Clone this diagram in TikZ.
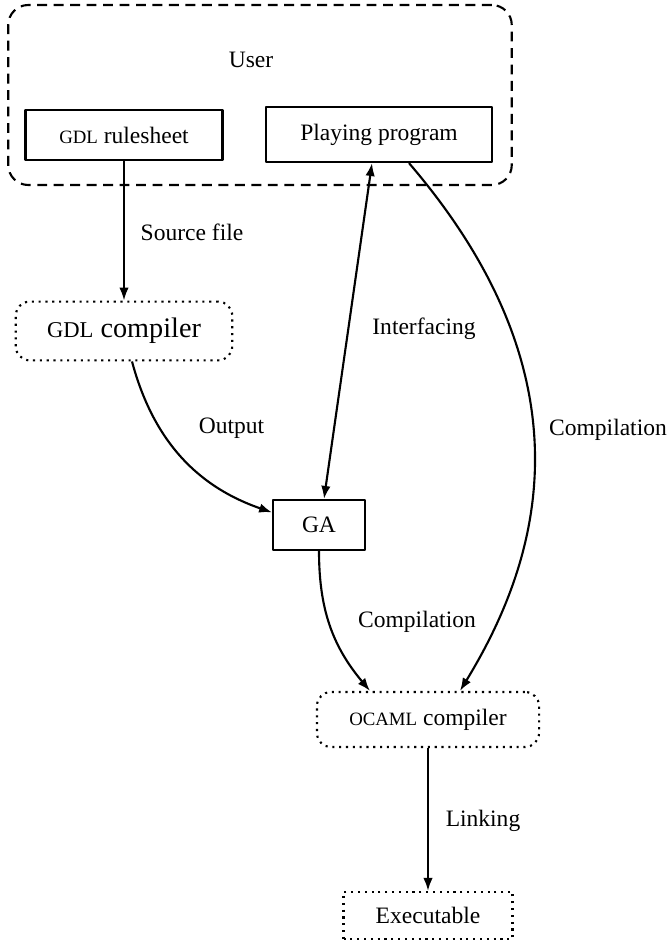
\documentclass[tikz,border=0pt]{standalone}
\usepackage{fontspec}
\setmainfont{Liberation Serif}
\usetikzlibrary{positioning,calc,arrows,arrows.meta}

\newcommand{\smcaps}[1]{\scalebox{0.8}{#1}}

\begin{document}
\begin{tikzpicture}[join=round,x=0.425pt,y=0.425pt]
		\tikzstyle{prog}=[draw, line width=0.9pt, rectangle, inner sep=0pt];
		\tikzstyle{tool}=[draw, line width=0.9pt, dotted, rounded corners=6pt, inner sep=0pt];
		\tikzstyle{flow}=[-{Latex[length=5.5pt,width=4pt]},line width=0.9pt];
		\tikzstyle{lab}=[inner sep=0pt];

		\useasboundingbox (0,0) rectangle (668,-943);

		% user side
		\node[draw, line width=0.9pt, dash pattern=on 4.2pt off 2.8pt, rounded corners=8.5pt, minimum width=214pt, minimum height=76.5pt] (user_box) at (260,-95) {};
		\node (user) at (251,-60) {User};
		\node[prog, minimum width=83.7pt, minimum height=21.3pt] (rules) at (124,-135) {\smcaps{GDL} rulesheet};
		\node[prog, minimum width=96pt, minimum height=23.4pt] (play) at (379,-134.5) {Playing program};

		% tools
		\node[tool, minimum width=92pt, minimum height=25pt] (gdl_c) at (124,-331) {\large \smcaps{GDL} compiler};
		\node[prog, minimum width=39pt, minimum height=21.3pt] (ga) at (319,-525) {GA};
		\node[tool, minimum width=94.4pt, minimum height=23.4pt] (ocaml_c) at (428,-719.5) {\smcaps{OCAML} compiler};
		\node[draw, line width=0.9pt, dotted, inner sep=0pt, minimum width=71.8pt, minimum height=20pt] (exe) at (428,-915.5) {Executable};

		% connectors
		\draw[flow] (rules.south) -- (gdl_c.north);
		\draw[flow] ($(gdl_c.south)+(8,0)$) to[out=-75, in=161] (ga.165);
		\draw[{Latex[length=5.5pt,width=4pt]}-{Latex[length=5.5pt,width=4pt]},line width=0.9pt] ($(play.south)+(-7,0)$) -- ($(ga.north)+(5,0)$);
		\draw[flow] ($(play.south)+(30,0)$) .. controls (595,-380) and (540,-560) .. ($(ocaml_c.north)+(32,0)$);
		\draw[flow] (ga.south) to[out=-90, in=130] ($(ocaml_c.north)+(-58,0)$);
		\draw[flow] (ocaml_c.south) -- (exe.north);

		% labels
		\node[lab] at (192,-232) {Source file};
		\node[lab] at (424,-329) {Interfacing};
		\node[lab] at (231.5,-428) {Output};
		\node[lab] at (608,-430) {Compilation};
		\node[lab] at (417,-622) {Compilation};
		\node[lab] at (483,-821) {Linking};
		
\end{tikzpicture}
\end{document}
